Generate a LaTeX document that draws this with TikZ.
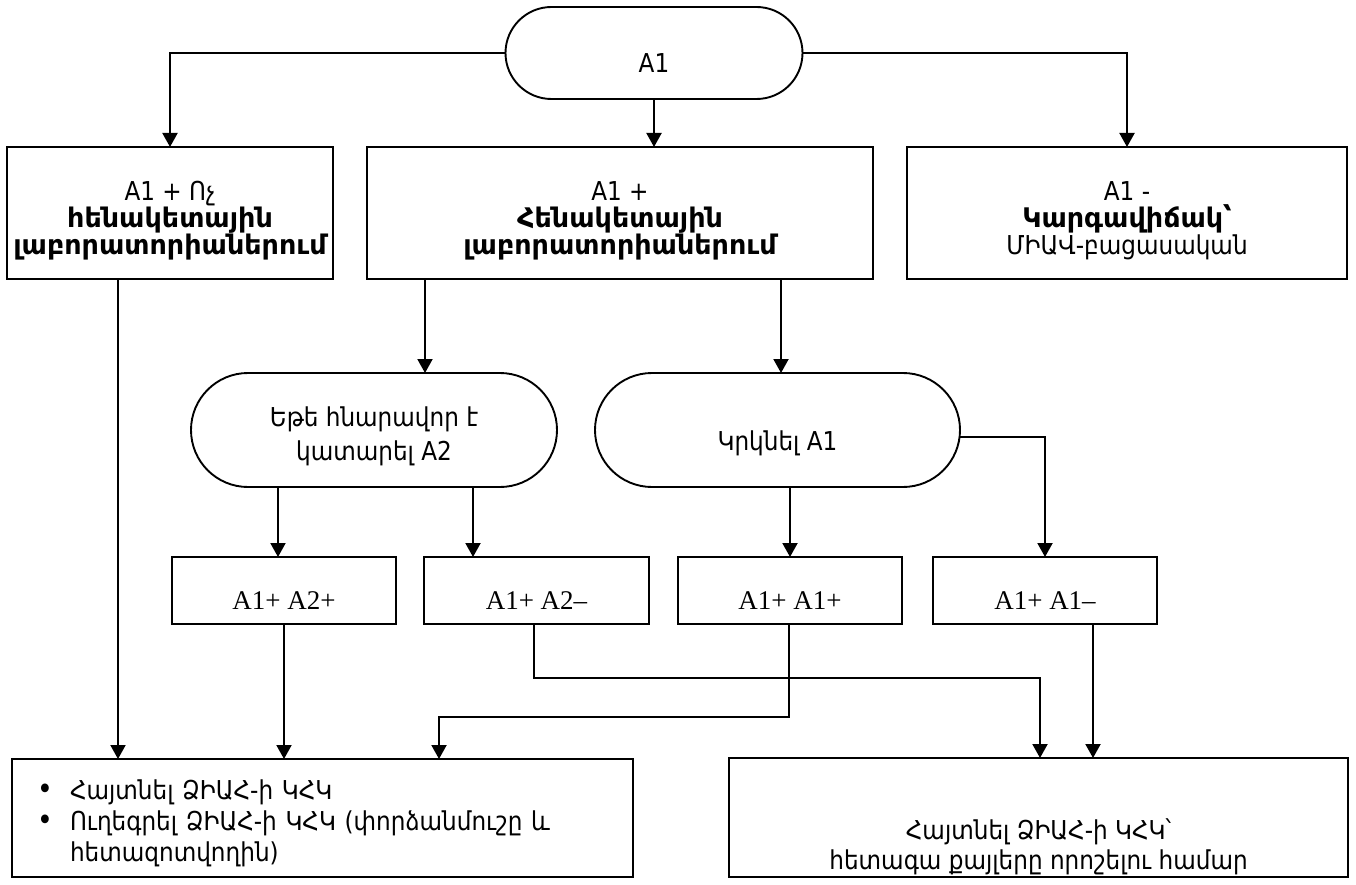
\documentclass[tikz,border=0pt]{standalone}
\usepackage{fontspec}
\setmainfont{DejaVu Sans}
\newfontfamily\rg{DejaVu Sans}[FakeStretch=0.89]
\newfontfamily\timesf{Liberation Serif}
\newcommand\bt[1]{{\rmfamily\bfseries\fontsize{27}{27}\selectfont #1}}
\usetikzlibrary{arrows.meta,shapes.misc}
\begin{document}
\begin{tikzpicture}[x=1pt,y=-1pt,
  every node/.style={inner sep=0pt, outer sep=0pt},
  box/.style={draw, line width=1.9pt, rectangle, align=center, font=\rg\fontsize{26}{27}\selectfont},
  term/.style={box, rounded rectangle},
  sbox/.style={draw, line width=1.9pt, rectangle, font=\timesf\fontsize{27}{30}\selectfont, text height=37pt, text depth=0pt, minimum width=224pt, minimum height=67pt},
  arr/.style={line width=2pt, -{Triangle[length=14pt,width=15pt]}},
  txt/.style={align=center, font=\rg\fontsize{26}{30}\selectfont}]
\useasboundingbox (0,0) rectangle (1356,885);

\node[term, minimum width=297pt, minimum height=92pt, text height=40pt, text depth=0pt] (A1) at (654,53) {A1};

\node[box, minimum width=326pt, minimum height=132pt] (B1) at (170,213)
  {\rule{0pt}{34pt}A1 + Ոչ\\\bt{հենակետային}\\\bt{լաբորատորիաներում}};
\node[box, minimum width=506pt, minimum height=132pt] (B2) at (620,213)
  {\rule{0pt}{34pt}A1 +\\\bt{Հենակետային}\\\bt{լաբորատորիաներում}};
\node[box, minimum width=440pt, minimum height=132pt] (B3) at (1127,213)
  {\rule{0pt}{34pt}A1 -\\\bt{Կարգավիճակ՝}\\ՄԻԱՎ-բացասական};

\node[term, minimum width=366pt, minimum height=114pt, font=\rg\fontsize{26}{34}\selectfont] (T1) at (374,430)
  {\rule{0pt}{32pt}Եթե հնարավոր է\\կատարել A2};
\node[term, minimum width=365pt, minimum height=114pt, text height=40pt, text depth=0pt] (T2) at (777.5,430)
  {Կրկնել A1};

\node[sbox] (S1) at (284,590.5) {A1+ A2+};
\node[sbox, minimum width=225pt] (S2) at (536.5,590.5) {A1+ A2–};
\node[sbox] (S3) at (790,590.5) {A1+ A1+};
\node[sbox] (S4) at (1045,590.5) {A1+ A1–};

\node[draw, line width=1.9pt, minimum width=621pt, minimum height=118pt, text width=565pt, align=left,
  font=\rg\fontsize{26}{31}\selectfont] (L) at (322.5,818)
  {\rule{0pt}{30pt}\makebox[30pt][l]{\hspace*{-3pt}\fontsize{30}{31}\selectfont•}Հայտնել ՁԻԱՀ-ի ԿՀԿ\\
   \makebox[30pt][l]{\hspace*{-3pt}\fontsize{30}{31}\selectfont•}Ուղեգրել ՁԻԱՀ-ի ԿՀԿ (փորձանմուշը և\\
   \hspace*{30pt}հետազոտվողին)};

\node[draw, line width=1.9pt, minimum width=619pt, minimum height=119pt] (R) at (1038.5,817.5) {};
\node[txt] (Rt) at ([yshift=-29pt]R.center) {Հայտնել ՁԻԱՀ-ի ԿՀԿ՝\\հետագա քայլերը որոշելու համար};

\draw[arr] (A1.west) -| (B1.north);
\draw[arr] (A1.east) -| (B3.north);
\draw[arr] (A1.south) -- (A1.south |- B2.north);
\draw[arr] ([xshift=-52pt]B1.south) -- ([xshift=-52pt]B1.south |- L.north);
\draw[arr] ([xshift=51pt]T1.north |- B2.south) -- ([xshift=51pt]T1.north);
\draw[arr] ([xshift=3.5pt]T2.north |- B2.south) -- ([xshift=3.5pt]T2.north);
\draw[arr] ([xshift=-6pt]S1.north |- T1.south) -- ([xshift=-6pt]S1.north);
\draw[arr] ([xshift=-63.5pt]S2.north |- T1.south) -- ([xshift=-63.5pt]S2.north);
\draw[arr] (S3.north |- T2.south) -- (S3.north);
\draw[arr] ([yshift=-7pt]T2.east) -| (S4.north);
\draw[arr] (S1.south) -- (S1.south |- L.north);
\draw[arr] ([xshift=-2.5pt]S2.south) -- ++(0,54) -| ([xshift=1.5pt]R.north);
\draw[arr] ([xshift=-1pt]S3.south) -- ++(0,93) -| ([xshift=116.5pt]L.north);
\draw[arr] ([xshift=48pt]S4.south) -- ([xshift=48pt]S4.south |- R.north);
\end{tikzpicture}
\end{document}
